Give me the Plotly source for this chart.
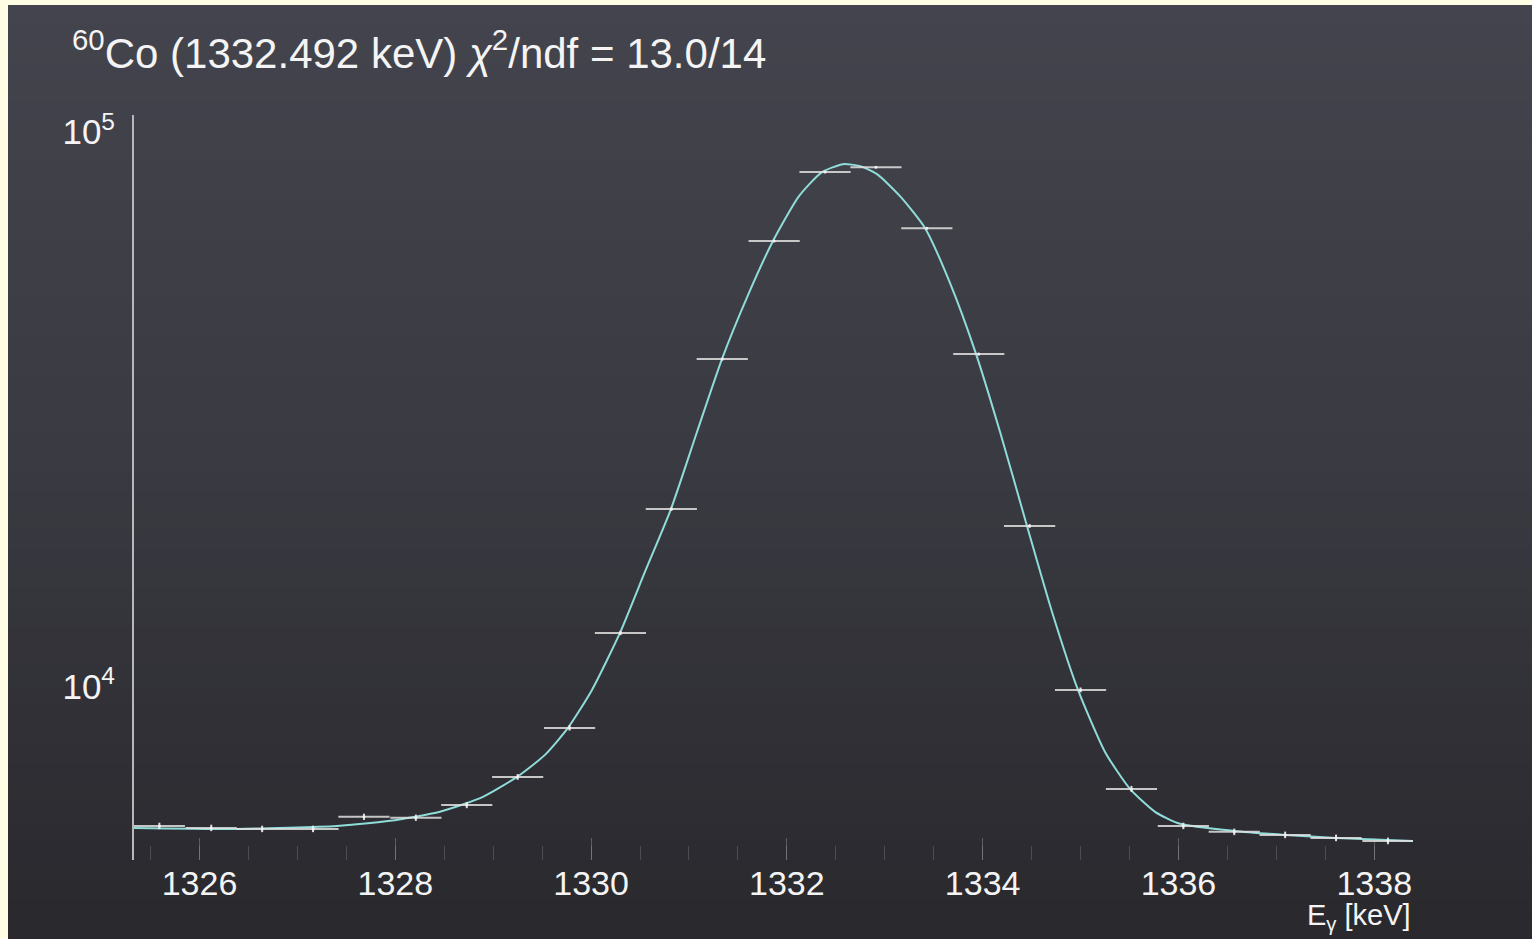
import plotly.graph_objects as go

# ---------------- data ----------------
bin_centers = [1325.59, 1326.12, 1326.64, 1327.16, 1327.68, 1328.21, 1328.73,
               1329.25, 1329.78, 1330.30, 1330.82, 1331.34, 1331.87, 1332.39,
               1332.91, 1333.43, 1333.96, 1334.48, 1335.00, 1335.52, 1336.05,
               1336.57, 1337.09, 1337.61, 1338.14]
counts = [5617, 5570, 5547, 5547, 5833, 5810, 6123, 6883, 8436, 12512, 20924,
          38994, 63640, 84730, 86480, 67140, 39810, 19510, 9876, 6549, 5617,
          5480, 5411, 5344, 5278]
half_bin = 0.2614

fit_x = [1325.331, 1326.383, 1327.404, 1327.946, 1328.457, 1328.896, 1329.243,
         1329.529, 1329.764, 1330.009, 1330.295, 1330.550, 1330.816, 1331.082,
         1331.337, 1331.603, 1331.858, 1332.124, 1332.359, 1332.574, 1332.748,
         1332.921, 1333.156, 1333.412, 1333.667, 1333.933, 1334.178, 1334.453,
         1334.709, 1334.974, 1335.250, 1335.505, 1335.761, 1336.016, 1336.568,
         1337.089, 1337.610, 1338.396]
fit_y = [5570, 5547, 5617, 5736, 5955, 6336, 6883, 7543, 8436, 9876, 12512,
         16117, 20924, 28810, 38994, 50850, 63640, 76690, 84730, 87580, 86860,
         84020, 76690, 67140, 53450, 39810, 28810, 19510, 13650, 9876, 7636,
         6549, 5955, 5665, 5501, 5411, 5344, 5278]

x_ticks = [1326, 1328, 1330, 1332, 1334, 1336, 1338]
y_ticks = [1e4, 1e5]
y_ticktext = ["10<sup>4</sup>", "10<sup>5</sup>"]

title_text = "<sup>60</sup>Co (1332.492 keV) <i>χ</i><sup>2</sup>/ndf = 13.0/14"
x_title = "E<sub>γ</sub> [keV]"

# ---------------- layout geometry ----------------
W, H = 1532, 939
L, R, T, B = 134, 1532 - 1413, 115, 939 - 860
pw, ph = W - L - R, H - T - B


def px2x(px):
    return (px - L) / pw


def py2y(py):
    return (H - B - py) / ph


FONT = "Liberation Sans, Arial, Helvetica, sans-serif"

fig = go.Figure()

# fit curve
fig.add_trace(go.Scatter(
    x=fit_x, y=fit_y, mode="lines",
    line=dict(color="#8fdcd8", width=2, shape="spline", smoothing=0.6),
    hoverinfo="skip", showlegend=False))

# histogram points with error bars
fig.add_trace(go.Scatter(
    x=bin_centers, y=counts, mode="markers",
    marker=dict(size=3, color="#f0f0f0"),
    error_x=dict(type="constant", value=half_bin, width=0, thickness=2,
                 color="rgba(225,225,225,0.85)"),
    error_y=dict(type="sqrt", width=0, thickness=2, color="rgba(240,240,240,0.9)"),
    showlegend=False))

# background: cream page with a dark gradient panel
shapes = []
top_c = (68, 68, 78)
mid_c = (58, 58, 66)
bot_c = (42, 41, 46)
n = 48
y0p, y1p = 5, H
for i in range(n):
    t = i / (n - 1)
    if t < 0.5:
        u = t / 0.5
        c = tuple(int(top_c[k] + (mid_c[k] - top_c[k]) * u) for k in range(3))
    else:
        u = (t - 0.5) / 0.5
        c = tuple(int(mid_c[k] + (bot_c[k] - mid_c[k]) * u) for k in range(3))
    ya = y0p + (y1p - y0p) * i / n
    yb = y0p + (y1p - y0p) * (i + 1) / n + 1
    shapes.append(dict(type="rect", xref="paper", yref="paper",
                       x0=px2x(8), x1=px2x(W + 2), y0=py2y(yb), y1=py2y(ya),
                       fillcolor="rgb(%d,%d,%d)" % c, line=dict(width=0),
                       layer="below"))

fig.update_layout(
    width=W, height=H,
    margin=dict(l=L, r=R, t=T, b=B, pad=0),
    paper_bgcolor="#fffde3",
    plot_bgcolor="rgba(0,0,0,0)",
    shapes=shapes,
    showlegend=False,
    font=dict(family=FONT, color="#f4f4f4"),
    xaxis=dict(
        range=[1325.331, 1338.396], tickvals=x_ticks,
        ticktext=[str(v) for v in x_ticks],
        showgrid=False, zeroline=False, showline=False,
        ticks="inside", ticklen=22, tickwidth=1, tickcolor="rgba(210,210,210,0.3)",
        minor=dict(dtick=0.5, tick0=1326, ticks="inside", ticklen=14,
                   tickwidth=1, tickcolor="rgba(210,210,210,0.2)", showgrid=False),
        tickfont=dict(size=34, color="#f4f4f4", family=FONT),
        ticklabelstandoff=0,
    ),
    yaxis=dict(
        type="log", range=[3.688, 5.031],
        tickvals=y_ticks, ticktext=y_ticktext,
        showgrid=False, zeroline=False,
        showline=True, linecolor="#b8b8b8", linewidth=2,
        ticks="", tickfont=dict(size=35, color="#f4f4f4", family=FONT),
        ticklabelstandoff=10,
    ),
    annotations=[
        dict(text=title_text, x=px2x(70), y=py2y(50), xref="paper", yref="paper",
             xanchor="left", yanchor="middle", showarrow=False,
             font=dict(size=42, color="#f4f4f4", family=FONT)),
        dict(text=x_title, x=1, y=py2y(937), xref="paper", yref="paper",
             xanchor="right", yanchor="bottom", showarrow=False,
             font=dict(size=29, color="#f4f4f4", family=FONT)),
    ],
)

fig.write_html("out.html")
